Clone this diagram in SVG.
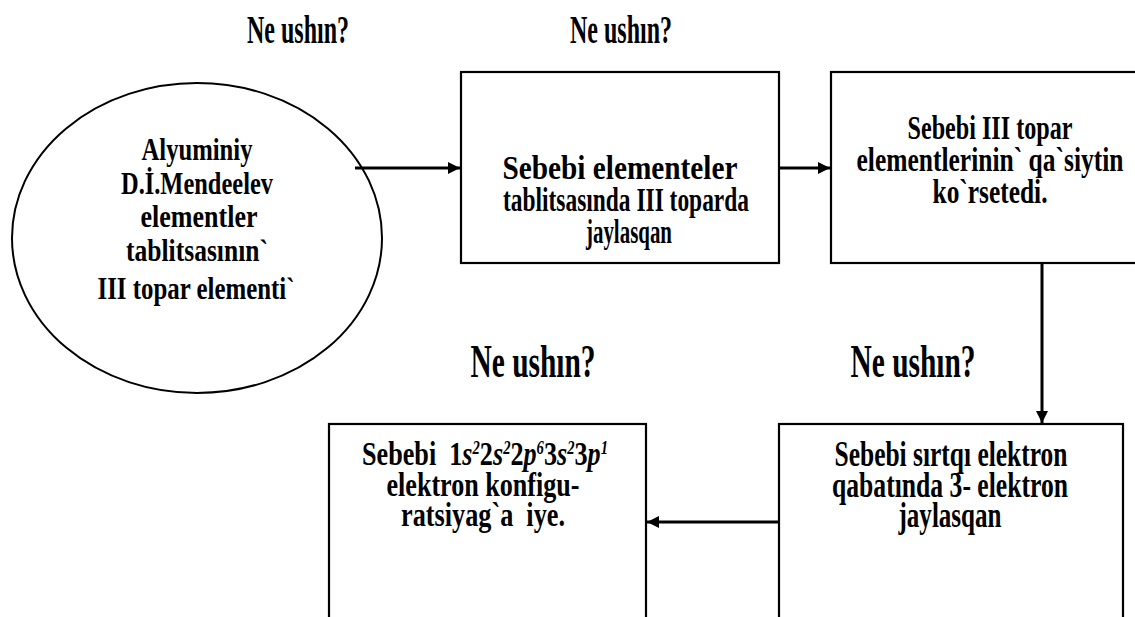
<svg xmlns="http://www.w3.org/2000/svg" width="1135" height="617" viewBox="0 0 1135 617">
<defs>
<marker id="ah" markerUnits="userSpaceOnUse" markerWidth="13" markerHeight="12" refX="12" refY="6" orient="auto">
<path d="M0,0 L12,6 L0,12 z" fill="#000"/>
</marker>
<style>
.t{font-family:"Liberation Serif","Times New Roman",serif;font-weight:bold;fill:#000;text-anchor:middle}
.box{fill:#fff;stroke:#000;stroke-width:2.2}
.con{stroke:#000;stroke-width:3;fill:none;marker-end:url(#ah)}
.it{font-style:italic}
</style>
</defs>
<rect width="1135" height="617" fill="#fff"/>

<g id="titles">
<text class="t" x="298" y="43" font-size="40" textLength="102" lengthAdjust="spacingAndGlyphs">Ne ushın?</text>
<text class="t" x="621" y="43" font-size="40" textLength="102" lengthAdjust="spacingAndGlyphs">Ne ushın?</text>
<text class="t" x="533" y="377" font-size="47" textLength="125" lengthAdjust="spacingAndGlyphs">Ne ushın?</text>
<text class="t" x="913" y="377" font-size="47" textLength="125" lengthAdjust="spacingAndGlyphs">Ne ushın?</text>
</g>

<g id="node-ellipse">
<ellipse cx="197" cy="238" rx="185" ry="155" fill="#fff" stroke="#000" stroke-width="2"/>
<text class="t" font-size="31" x="197" y="160" textLength="111" lengthAdjust="spacingAndGlyphs">Alyuminiy</text>
<text class="t" font-size="31" x="197" y="194" textLength="152" lengthAdjust="spacingAndGlyphs">D.İ.Mendeelev</text>
<text class="t" font-size="31" x="199" y="227" textLength="117" lengthAdjust="spacingAndGlyphs">elementler</text>
<text class="t" font-size="31" x="197" y="261" textLength="142" lengthAdjust="spacingAndGlyphs">tablitsasının`</text>
<text class="t" font-size="31" x="196" y="299" textLength="197" lengthAdjust="spacingAndGlyphs">III topar elementi`</text>
</g>

<g id="node-box1">
<rect class="box" x="461" y="72" width="318" height="191"/>
<text class="t" font-size="33" x="620" y="179" textLength="235" lengthAdjust="spacingAndGlyphs">Sebebi elementeler</text>
<text class="t" font-size="33" x="626" y="211" textLength="246" lengthAdjust="spacingAndGlyphs">tablitsasında III toparda</text>
<text class="t" font-size="33" x="629" y="243" textLength="86" lengthAdjust="spacingAndGlyphs">jaylasqan</text>
</g>

<g id="node-box2">
<rect class="box" x="831" y="72" width="330" height="191"/>
<text class="t" font-size="33" x="990" y="139" textLength="165" lengthAdjust="spacingAndGlyphs">Sebebi III topar</text>
<text class="t" font-size="33" x="990" y="171" textLength="267" lengthAdjust="spacingAndGlyphs">elementlerinin` qa`siytin</text>
<text class="t" font-size="33" x="990" y="203" textLength="115" lengthAdjust="spacingAndGlyphs">ko`rsetedi.</text>
</g>

<g id="node-box3">
<rect class="box" x="329" y="424" width="317" height="220"/>
<text class="t" font-size="34" x="485" y="465" textLength="246" lengthAdjust="spacingAndGlyphs" style="white-space:pre">Sebebi  1<tspan class="it">s</tspan><tspan class="it" font-size="19" dy="-11">2</tspan><tspan dy="11">2</tspan><tspan class="it">s</tspan><tspan class="it" font-size="19" dy="-11">2</tspan><tspan dy="11">2</tspan><tspan class="it">p</tspan><tspan class="it" font-size="19" dy="-11">6</tspan><tspan dy="11">3</tspan><tspan class="it">s</tspan><tspan class="it" font-size="19" dy="-11">2</tspan><tspan dy="11">3</tspan><tspan class="it">p</tspan><tspan class="it" font-size="19" dy="-11">1</tspan></text>
<text class="t" font-size="34" x="483" y="496" textLength="193" lengthAdjust="spacingAndGlyphs">elektron konfigu-</text>
<text class="t" font-size="34" x="483" y="526" textLength="164" lengthAdjust="spacingAndGlyphs" style="white-space:pre">ratsiyag`a  iye.</text>
</g>

<g id="node-box4">
<rect class="box" x="779" y="424" width="344" height="220"/>
<text class="t" font-size="35" x="951" y="466" textLength="233" lengthAdjust="spacingAndGlyphs">Sebebi sırtqı elektron</text>
<text class="t" font-size="35" x="950" y="497" textLength="236" lengthAdjust="spacingAndGlyphs">qabatında 3- elektron</text>
<text class="t" font-size="35" x="950" y="527" textLength="103" lengthAdjust="spacingAndGlyphs">jaylasqan</text>
</g>

<g id="connectors">
<line class="con" x1="355" y1="168" x2="460" y2="168"/>
<line class="con" x1="779" y1="168" x2="830" y2="168"/>
<line class="con" x1="1042" y1="263" x2="1042" y2="423" stroke-width="2.5"/>
<line class="con" x1="779" y1="522" x2="647" y2="522"/>
</g>
</svg>
